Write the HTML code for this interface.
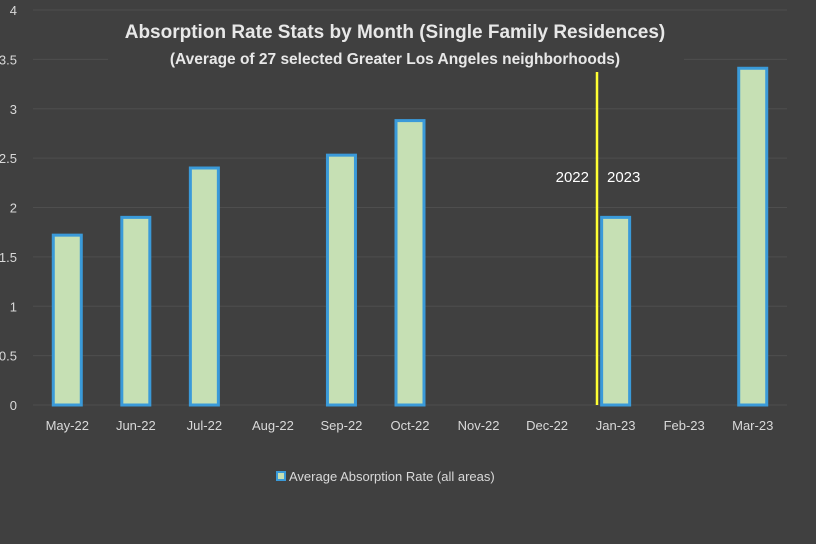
<!DOCTYPE html>
<html><head><meta charset="utf-8"><style>
html,body{margin:0;padding:0;background:#404040;}
svg{display:block;font-family:"Liberation Sans",sans-serif;}
</style></head><body>
<svg id="chart" width="816" height="544" viewBox="0 0 816 544">
<rect width="816" height="544" fill="#404040"/>
<g id="grid"></g>
<rect x="108" y="14" width="576" height="58" fill="#404040"/>
<text x="395" y="38" text-anchor="middle" fill="#e8e8e8" font-size="19" font-weight="bold">Absorption Rate Stats by Month (Single Family Residences)</text>
<text x="395" y="64" text-anchor="middle" fill="#e8e8e8" font-size="15.5" font-weight="bold">(Average of 27 selected Greater Los Angeles neighborhoods)</text>
<g id="bars"></g><g id="xlabels"></g><g id="ylabels"></g>
<line x1="597" y1="72" x2="597" y2="405" stroke="#ffff33" stroke-width="2.5"/>
<text x="589" y="182" text-anchor="end" fill="#ffffff" font-size="15">2022</text>
<text x="607" y="182" fill="#ffffff" font-size="15">2023</text>
<g>
<rect x="277" y="472" width="8" height="8" fill="#c6e0b4" stroke="#3a9ad9" stroke-width="2"/>
<text x="289" y="481" fill="#d9d9d9" font-size="13">Average Absorption Rate (all areas)</text>
</g>
</svg>
<script>
const categories=["May-22","Jun-22","Jul-22","Aug-22","Sep-22","Oct-22","Nov-22","Dec-22","Jan-23","Feb-23","Mar-23"];
const values=[1.72,1.9,2.4,null,2.53,2.88,null,null,1.9,null,3.41];
const yTicks=[0,0.5,1,1.5,2,2.5,3,3.5,4];
const NS="http://www.w3.org/2000/svg";
const x0=33,x1=787,yBase=405,yTop=10,yMax=4;
const band=(x1-x0)/categories.length;
function xScale(i){return x0+band*(i+0.5);}
function yScale(v){return yBase-(v/yMax)*(yBase-yTop);}
function mk(tag,attrs,parent){const e=document.createElementNS(NS,tag);for(const k in attrs)e.setAttribute(k,attrs[k]);parent.appendChild(e);return e;}
const grid=document.getElementById('grid'),yl=document.getElementById('ylabels');
yTicks.forEach(t=>{
  const y=yScale(t);
  const l=mk('line',{x1:x0,x2:x1,y1:y,y2:y,stroke:'#4e4e4e','stroke-width':1},grid);
  
  
  const tx=mk('text',{x:17,y:y+5,'text-anchor':'end',fill:'#d9d9d9','font-size':13},yl);
  tx.textContent=String(t);
  
  
});
const bars=document.getElementById('bars'),xl=document.getElementById('xlabels');
categories.forEach((c,i)=>{
  const cx=xScale(i);
  const tx=mk('text',{x:cx,y:430,'text-anchor':'middle',fill:'#d9d9d9','font-size':13},xl);
  tx.textContent=c;
  
  
  const v=values[i];
  if(v==null)return;
  const y=yScale(v);
  const r=mk('rect',{x:cx-14,y:y,width:28,height:yBase-y,fill:'#c6e0b4',stroke:'#3a9ad9','stroke-width':3},bars);
  
  
});
</script>
</body></html>
